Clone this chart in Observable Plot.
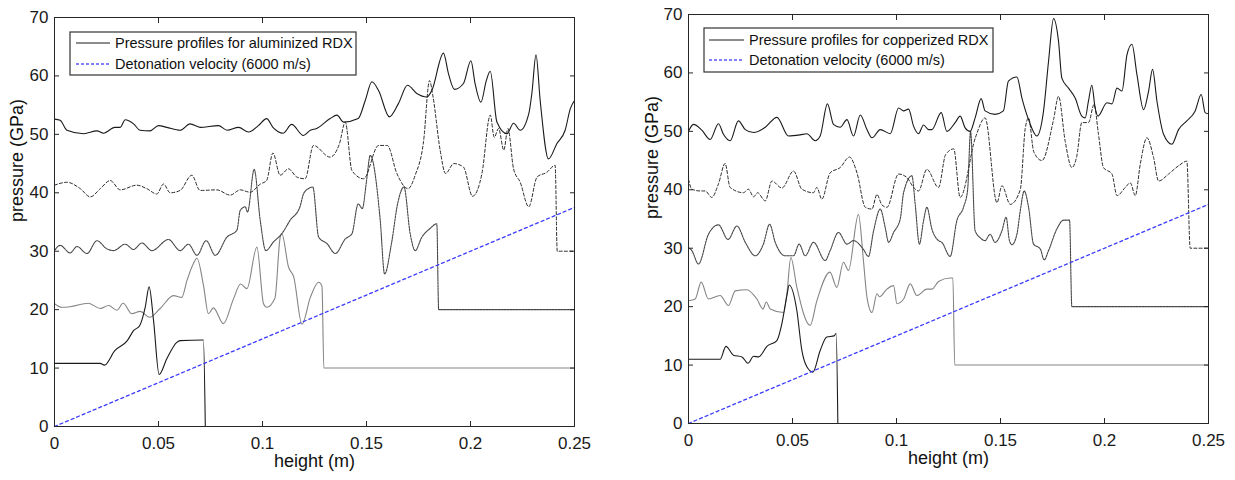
<!DOCTYPE html>
<html>
<head>
<meta charset="utf-8">
<script src="https://cdn.jsdelivr.net/npm/d3@7"></script>
<script src="https://cdn.jsdelivr.net/npm/@observablehq/plot@0.6"></script>
<style>
  body { margin: 0; background: #fff; }
  #wrap { position: relative; width: 1235px; height: 480px; font-family: "Liberation Sans", Arial, sans-serif; }
  .panel { position: absolute; top: 0; }
</style>
</head>
<body>
<div id="wrap"></div>
<script>
// ---------- ticks ----------
const xTicks = [0, 0.05, 0.1, 0.15, 0.2, 0.25];
const xTickLabels = ["0", "0.05", "0.1", "0.15", "0.2", "0.25"];
const yTicks = [0, 10, 20, 30, 40, 50, 60, 70];

const xLabel = "height (m)";
const yLabel = "pressure (GPa)";
const legendAl = ["Pressure profiles for aluminized RDX", "Detonation velocity (6000 m/s)"];
const legendCu = ["Pressure profiles for copperized RDX", "Detonation velocity (6000 m/s)"];

// detonation velocity line (pressure-height reference)
const detX = [0, 0.25];
const detY = [0, 37.5];

// ---------- aluminized RDX (left) : [height, pressure] ----------
const al10 = [[0,10.8],[0.022,10.8],[0.024,10.5],[0.029,13],[0.035,14.7],[0.038,16.4],[0.041,17.3],[0.0436,20.4],[0.0455,23.9],[0.0476,18.2],[0.0503,8.9],[0.054,11.6],[0.0588,14.4],[0.0604,14.7],[0.0716,14.8],[0.0725,0]];
const al20 = [[0,21],[0.0035,20.4],[0.0075,20.5],[0.0163,21.1],[0.022,20.2],[0.026,20.7],[0.030,19.9],[0.033,21.1],[0.0372,19.3],[0.0412,19.7],[0.0457,18.7],[0.0508,20.2],[0.0572,22.4],[0.0612,22.1],[0.0637,25],[0.0668,27.9],[0.0685,28.8],[0.0716,24.2],[0.074,19.3],[0.0764,20.3],[0.0812,17.6],[0.086,21.8],[0.0895,24.4],[0.0925,23.6],[0.0973,30.7],[0.1005,21],[0.102,20.4],[0.106,22],[0.1085,32.4],[0.1093,33],[0.1125,27.3],[0.115,25.6],[0.119,17.5],[0.123,22.1],[0.127,24.7],[0.1286,24],[0.1295,10],[0.25,10]];
const al30 = [[0,30.1],[0.0027,31],[0.0075,29.7],[0.0108,30.8],[0.0156,29.6],[0.0204,31.8],[0.0252,30.4],[0.0284,30.1],[0.034,31.2],[0.038,30.3],[0.042,31.4],[0.0468,30.1],[0.0548,32],[0.0604,30.1],[0.0644,31.2],[0.0685,29.3],[0.0729,31.8],[0.0773,29.3],[0.0829,32.4],[0.0877,33.6],[0.0893,37],[0.0917,37.6],[0.0928,36.7],[0.096,44],[0.0989,35.3],[0.1016,30.1],[0.1053,31.6],[0.1093,33],[0.1133,35.3],[0.118,37.6],[0.1197,39.8],[0.122,40.7],[0.1242,41],[0.127,32.4],[0.131,31.3],[0.135,29.6],[0.1398,32.1],[0.143,33],[0.146,38.1],[0.148,37.3],[0.150,42],[0.1518,46.4],[0.1566,35.3],[0.1587,26.1],[0.162,31.3],[0.165,38.2],[0.168,41],[0.171,33],[0.1734,30.1],[0.1766,32.4],[0.1806,33.9],[0.1838,34.7],[0.1847,20],[0.25,20]];
const al40 = [[0,41.3],[0.006,41.8],[0.0124,40.7],[0.0172,39.3],[0.022,40.7],[0.0268,42.1],[0.0316,40.5],[0.0396,41.3],[0.0444,40.7],[0.0492,39.8],[0.0524,41.5],[0.0556,40],[0.0604,40.4],[0.066,43],[0.070,40.4],[0.078,40.5],[0.0845,39.6],[0.0893,40.5],[0.094,40.1],[0.099,41.5],[0.102,42.1],[0.105,46.8],[0.1085,43],[0.1125,44.1],[0.1165,42.7],[0.1205,42.4],[0.1245,48.1],[0.1325,46.1],[0.137,48.4],[0.1398,52.1],[0.143,43.8],[0.1486,42.4],[0.1558,48.1],[0.16,48.1],[0.1646,43.3],[0.170,40.7],[0.1734,43],[0.1774,48.7],[0.1803,59.2],[0.182,56.4],[0.1854,47.3],[0.188,43.3],[0.192,45],[0.1966,44.4],[0.201,39.4],[0.2055,43.3],[0.2095,53.3],[0.2114,49.5],[0.2135,51],[0.216,47.3],[0.218,51],[0.2207,44.1],[0.2239,41.8],[0.228,37.6],[0.232,42.7],[0.2367,43.5],[0.2407,44.7],[0.2417,30],[0.25,30]];
const al50 = [[0,52.6],[0.0027,52.4],[0.006,50.7],[0.014,50.1],[0.0204,50.6],[0.0236,50.2],[0.029,51.2],[0.0316,51.2],[0.034,52.5],[0.038,51.8],[0.0412,50.7],[0.046,50.6],[0.050,51.5],[0.054,51.2],[0.0604,50.7],[0.0652,51.8],[0.070,51.2],[0.0788,51.5],[0.083,50.7],[0.0885,51.2],[0.0933,50.4],[0.098,51.5],[0.102,52.7],[0.105,51.2],[0.11,50.2],[0.114,51.7],[0.1197,49.8],[0.123,50.7],[0.126,51],[0.1325,52.7],[0.1358,53.3],[0.139,52.1],[0.146,52.7],[0.1494,55.8],[0.1526,59],[0.1558,57.5],[0.161,53],[0.1654,55.3],[0.1697,58.4],[0.1742,57],[0.179,56.4],[0.1814,57.5],[0.187,63.9],[0.1894,60.4],[0.1923,57.7],[0.1966,58.7],[0.2002,62.6],[0.2022,58.7],[0.205,55.5],[0.2076,59.2],[0.2095,60.8],[0.2127,52.1],[0.2175,50.1],[0.2207,51.9],[0.2239,50.7],[0.228,53.5],[0.2295,57],[0.2315,63.6],[0.2335,55.8],[0.2375,45.8],[0.2415,48.4],[0.2455,50.7],[0.248,54.4],[0.25,55.8]];

// ---------- copperized RDX (right) : [height, pressure] ----------
const cu10 = [[0,11],[0.0152,11],[0.018,13.2],[0.0216,11.7],[0.0257,11.4],[0.0286,10.3],[0.0313,11.5],[0.0337,11.4],[0.0377,13.2],[0.0425,14.2],[0.0449,17.1],[0.0473,21.9],[0.0484,23.7],[0.0521,19.3],[0.0545,12.5],[0.0569,9.7],[0.0598,8.8],[0.0633,12.5],[0.0665,14.8],[0.07,15],[0.071,15.4],[0.0718,0]];
const cu20 = [[0,21],[0.0032,21.3],[0.0061,24.2],[0.0096,21.3],[0.0152,21.9],[0.0192,20.2],[0.0225,22.7],[0.028,22.9],[0.0329,21.3],[0.0358,19.6],[0.0374,20.8],[0.0393,19.6],[0.0457,19],[0.0473,22.2],[0.0492,28.4],[0.0521,23.3],[0.0585,16.8],[0.0617,21],[0.068,25.9],[0.0713,23.3],[0.0745,27.6],[0.0769,26.2],[0.0817,35.8],[0.0841,27.9],[0.0858,21.6],[0.0882,19],[0.0906,22.2],[0.0918,21.7],[0.0954,23],[0.0986,23.6],[0.1002,20.5],[0.1034,21.3],[0.1066,23.9],[0.1098,21.9],[0.1146,23],[0.117,23],[0.1202,24.3],[0.1258,24.9],[0.1271,24.9],[0.128,10],[0.25,10]];
const cu30 = [[0,30.1],[0.0016,29.6],[0.0048,27.3],[0.0096,32.4],[0.0144,34],[0.019,31.5],[0.0233,33.8],[0.0273,31],[0.0321,28.7],[0.036,30.7],[0.039,34.1],[0.0417,31],[0.0465,28.7],[0.0505,28.7],[0.0532,30.7],[0.0561,28.7],[0.0601,31],[0.0657,27.9],[0.0681,29.6],[0.0721,32.7],[0.0762,30.7],[0.0793,31.3],[0.0841,29.8],[0.0865,28.6],[0.089,33],[0.0922,36.7],[0.0946,33.5],[0.0962,31],[0.0986,32.7],[0.1018,35],[0.1034,39.5],[0.1074,42.4],[0.109,37.5],[0.111,30.7],[0.113,34.7],[0.1146,37],[0.117,33.3],[0.1202,31.3],[0.1218,31],[0.1258,28.6],[0.129,34.7],[0.1322,37],[0.1342,40],[0.1356,50],[0.1378,33],[0.1402,31.8],[0.1426,31.3],[0.145,32.4],[0.1474,31],[0.1507,33],[0.1527,35.3],[0.1543,31.3],[0.1555,30.6],[0.1579,32.4],[0.1595,36.4],[0.1614,39.8],[0.1635,37],[0.1659,30.7],[0.1691,29.9],[0.171,28],[0.1731,29.6],[0.1771,33.3],[0.1803,34.8],[0.1832,34.8],[0.1843,20],[0.25,20]];
const cu40 = [[0,41.8],[0.0016,40.1],[0.0056,39.8],[0.008,39.8],[0.0112,38.7],[0.0144,41],[0.0176,44.5],[0.02,40.4],[0.0264,39.5],[0.0288,40.1],[0.0313,38.8],[0.0332,39.5],[0.0369,38.1],[0.0401,41.5],[0.0449,40.3],[0.0505,43.2],[0.0545,40.1],[0.0601,39.5],[0.0617,40.4],[0.0641,38.4],[0.0681,42.9],[0.0729,43.8],[0.0774,45.6],[0.081,42.9],[0.085,37],[0.0882,36.7],[0.0906,39.2],[0.093,37.4],[0.0954,37],[0.101,42.7],[0.105,42.1],[0.1082,40.4],[0.1106,39.8],[0.1146,43.5],[0.1202,40.4],[0.1236,46],[0.1275,47],[0.1306,38.7],[0.138,49],[0.1426,52.3],[0.1483,37.8],[0.1507,40.7],[0.1547,37.5],[0.1595,40],[0.1619,50.5],[0.1635,52.3],[0.166,46.5],[0.1699,45],[0.1755,52],[0.1779,56],[0.1811,48.3],[0.1843,43.8],[0.1867,45.8],[0.1891,51.5],[0.1923,51.5],[0.195,54.6],[0.1971,49.5],[0.1995,43.8],[0.2036,42.7],[0.206,39],[0.21,40.4],[0.2124,41.2],[0.2148,39],[0.2172,44.4],[0.2204,48.9],[0.2236,45.5],[0.226,41.5],[0.2308,42.7],[0.2356,44.1],[0.2396,44.9],[0.2412,30],[0.25,30]];
const cu50 = [[0,50],[0.0024,51.2],[0.0064,50.2],[0.0104,48.6],[0.0144,51.3],[0.0168,49.5],[0.02,48.4],[0.024,51.8],[0.0273,50.3],[0.0313,49.8],[0.0369,50.7],[0.0425,52.4],[0.0481,49.2],[0.0537,49.4],[0.0569,49.6],[0.0609,48.4],[0.0633,49.2],[0.0668,54.7],[0.0697,51.2],[0.0729,50.7],[0.0762,52],[0.0793,49.2],[0.0826,52.8],[0.0858,50.3],[0.0882,48.9],[0.0922,50.3],[0.097,49.6],[0.101,54],[0.1034,53.5],[0.1058,53.8],[0.1082,50.9],[0.1106,49.6],[0.113,51.1],[0.1154,50.3],[0.117,50.3],[0.1215,53.2],[0.1242,50],[0.1282,51.5],[0.1306,52.6],[0.133,50.6],[0.1354,50],[0.1378,52.3],[0.1407,55.6],[0.1426,53.5],[0.1474,52.9],[0.1514,53.5],[0.1538,58.6],[0.1579,59.3],[0.1603,55.7],[0.1635,52],[0.1675,49.2],[0.1707,53.5],[0.1731,62],[0.1755,69.3],[0.1779,65.4],[0.1795,59.1],[0.1827,57.4],[0.1859,55.7],[0.1891,52.6],[0.1907,52.3],[0.1923,55.2],[0.1939,57.9],[0.1955,54],[0.1968,52.6],[0.2012,54.9],[0.2036,54.7],[0.206,57.4],[0.2084,56.9],[0.2108,63.1],[0.2132,64.9],[0.2156,59.7],[0.2188,53.7],[0.2212,56.9],[0.2231,60.6],[0.2252,55.2],[0.2284,49.5],[0.2324,47.8],[0.2356,50.3],[0.2396,51.8],[0.2436,53.5],[0.2465,56.3],[0.2484,53.2],[0.25,53]];

// ---------- styles ----------
const AX = "#262626";
const styles = [
  {stroke: "#858585", strokeWidth: 1.1},                           // 20
  {stroke: "#454545", strokeWidth: 1.1, strokeDasharray: "2,1"},   // 30
  {stroke: "#2a2a2a", strokeWidth: 1, strokeDasharray: "3,2.2"},  // 40
  {stroke: "#1a1a1a", strokeWidth: 1.1},                           // 50
  {stroke: "#1a1a1a", strokeWidth: 1.1}                            // 10
];
const detStyle = {stroke: "#3b3bff", strokeWidth: 1.3, strokeDasharray: "3,3"};

function makePanel(curves, m, width, ylabDx) {
  const det = detX.map((x, i) => [x, detY[i]]);
  const marks = [];
  curves.forEach((c, i) => marks.push(Plot.line(c, {x: d => d[0], y: d => d[1], curve: "monotone-x", ...styles[i]})));
  marks.push(Plot.line(det, {x: d => d[0], y: d => d[1], ...detStyle}));
  marks.push(Plot.frame({stroke: AX, strokeWidth: 1}));
  // tick labels
  marks.push(Plot.axisX({ticks: xTicks, tickSize: 0, tickPadding: 10, tickFormat: d => xTickLabels[xTicks.indexOf(d)], label: null, fontSize: 17, fill: "#1a1a1a"}));
  marks.push(Plot.axisY({ticks: yTicks, tickSize: 0, tickPadding: 6, tickFormat: d => String(d), label: null, fontSize: 17, fill: "#1a1a1a"}));
  // inward ticks on all four sides
  marks.push(Plot.axisX({ticks: xTicks, tickSize: -5, fill: "none", label: null, stroke: AX}));
  marks.push(Plot.axisX({anchor: "top", ticks: xTicks, tickSize: -5, fill: "none", label: null, stroke: AX}));
  marks.push(Plot.axisY({ticks: yTicks, tickSize: -5, fill: "none", label: null, stroke: AX}));
  marks.push(Plot.axisY({anchor: "right", ticks: yTicks, tickSize: -5, fill: "none", label: null, stroke: AX}));
  // axis titles
  marks.push(Plot.text([xLabel], {text: d => d, frameAnchor: "bottom", dy: 40, fontSize: 18, fill: "#111"}));
  marks.push(Plot.text([yLabel], {text: d => d, frameAnchor: "left", dx: ylabDx, rotate: -90, fontSize: 18, fill: "#111"}));
  return Plot.plot({
    width, height: 480,
    marginLeft: m[0], marginRight: m[1], marginTop: m[2], marginBottom: m[3],
    x: {domain: [0, 0.25]},
    y: {domain: [0, 70]},
    style: {fontFamily: "Liberation Sans, Arial, sans-serif", fontSize: "17px", background: "transparent", overflow: "visible"},
    marks
  });
}

function makeLegend(labels, box) {
  const svg = d3.create("svg").attr("width", box.w + 2).attr("height", box.h + 2)
    .style("position", "absolute").style("left", (box.left - 1) + "px").style("top", (box.top - 1) + "px");
  svg.append("rect").attr("x", 1).attr("y", 1).attr("width", box.w).attr("height", box.h)
    .attr("fill", "#fff").attr("stroke", "#333").attr("stroke-width", 1.2);
  const rows = [box.r1, box.r2];
  const lineStyles = [{stroke: "#1a1a1a", dash: null, w: 1.1}, {stroke: "#5555ff", dash: "3,2", w: 1.3}];
  labels.forEach((t, i) => {
    svg.append("line").attr("x1", box.l1).attr("x2", box.l2).attr("y1", rows[i]).attr("y2", rows[i])
      .attr("stroke", lineStyles[i].stroke).attr("stroke-width", lineStyles[i].w)
      .attr("stroke-dasharray", lineStyles[i].dash);
    svg.append("text").attr("x", box.tx).attr("y", rows[i]).attr("dy", "0.35em")
      .attr("font-size", 14.5).attr("fill", "#111")
      .style("font-family", "Liberation Sans, Arial, sans-serif").text(t);
  });
  return svg.node();
}

const wrap = document.getElementById("wrap");

const left = makePanel([al20, al30, al40, al50, al10], [54, 36, 17, 54], 610, -37);
left.classList.add("panel"); left.style.left = "0px";
wrap.appendChild(left);

const right = makePanel([cu20, cu30, cu40, cu50, cu10], [68, 27, 14, 57], 615, -36);
right.classList.add("panel"); right.style.left = "620px";
wrap.appendChild(right);

wrap.appendChild(makeLegend(legendAl, {left: 70, top: 32, w: 286, h: 43, r1: 12, r2: 33, l1: 7, l2: 41, tx: 46}));
wrap.appendChild(makeLegend(legendCu, {left: 704, top: 28, w: 289, h: 44, r1: 13, r2: 33, l1: 6, l2: 41, tx: 46}));
</script>
</body>
</html>
